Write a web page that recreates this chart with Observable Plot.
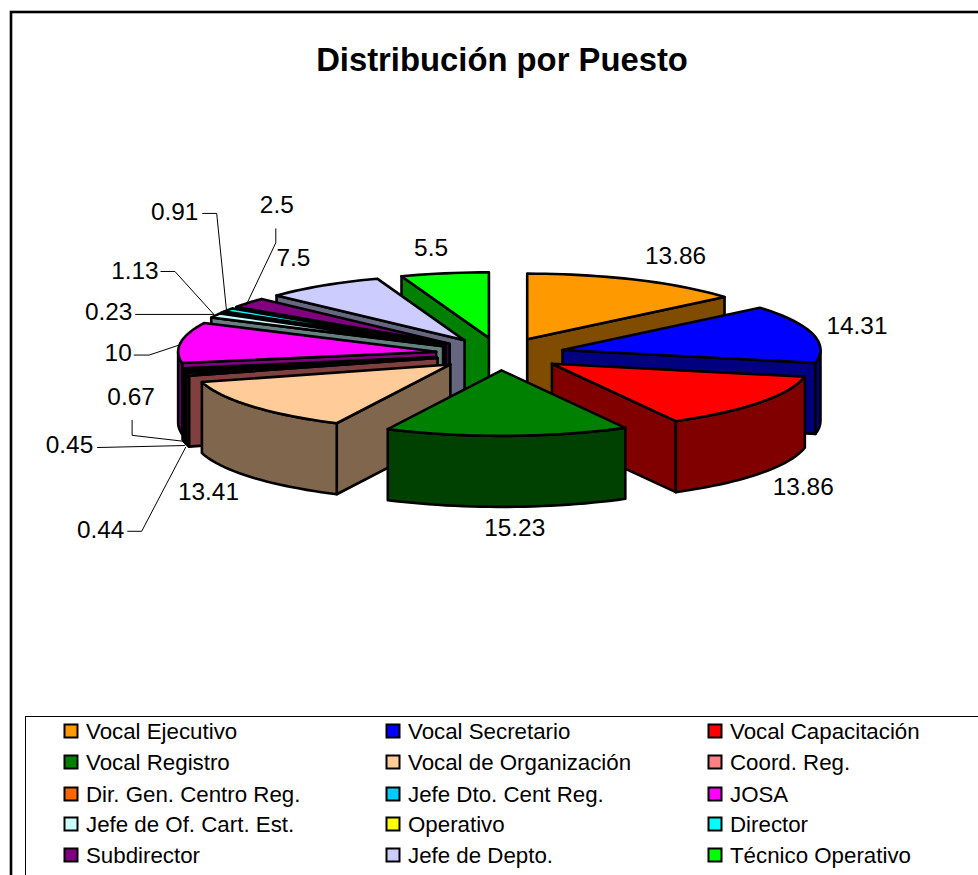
<!DOCTYPE html>
<html>
<head>
<meta charset="utf-8">
<script src="https://cdn.jsdelivr.net/npm/d3@7"></script>
<script src="https://cdn.jsdelivr.net/npm/@observablehq/plot@0.6"></script>
<style>html,body{margin:0;padding:0;background:#fff}svg{display:block}</style>
</head>
<body>
<div id="chart"></div>
<script>
const title = "Distribución por Puesto";
const categories = ["Vocal Ejecutivo","Vocal Secretario","Vocal Capacitación","Vocal Registro","Vocal de Organización","Coord. Reg.","Dir. Gen. Centro Reg.","Jefe Dto. Cent Reg.","JOSA","Jefe de Of. Cart. Est.","Operativo","Director","Subdirector","Jefe de Depto.","Técnico Operativo"];
const values = [13.86,14.31,13.86,15.23,13.41,0.67,0.45,0.44,10,1.13,0.23,0.91,2.5,7.5,5.5];
const topColors = ["#FF9900","#0000FF","#FF0000","#008000","#FFCC99","#FF8080","#FF6600","#00CCFF","#FF00FF","#CCFFFF","#FFFF00","#00FFFF","#800080","#CCCCFF","#00FF00"];
const wallColors = ["#804C00","#000080","#800000","#004000","#80664C","#804040","#803300","#006680","#800080","#668080","#808000","#008080","#400040","#666680","#008000"];

// Layout of the projected pie
const W = 978, H = 875;
const cx = 499.5, cy = 353.5, rx = 258, ry = 65.5, depth = 71, explode = 0.25;
// label offset from each slice's outer rim midpoint
const labelOffsets = [[39.5,-24],[44.5,-8],[43.5,85],[7.5,92],[-43.5,86],[-56.5,23],[-115.5,74],[-82.5,161],[-62.5,10.5],[-80.5,-44],[-113.5,0],[-53.5,-97.5],[28.5,-98],[-29.5,-27],[-13.5,-25]];
// leader routes, offset from the rim midpoint
const leaderRoutes = {5:[[-3.5,67],[-55.5,61],[-55.5,46]],6:[[-0.5,74],[-87.5,76]],7:[[2.5,78],[-41.5,162],[-55.5,162]],8:[[-1.5,2.5],[-31.5,12.5],[-46.5,12.5]],9:[[-1.5,-1],[-40.5,-44],[-54.5,-44]],10:[[-8.5,2],[-86.5,2]],11:[[-1.5,2.5],[-11.5,-96.5],[-25.5,-96.5]],12:[[-2.5,3],[27.5,-60],[27.5,-74]]};

const total = d3.sum(values);
const cum = d3.cumsum(values);
const rad = d => d * Math.PI / 180;
const slices = values.map((v,i) => {
  const a0 = (cum[i]-v)/total*360, a1 = cum[i]/total*360, mid = (a0+a1)/2;
  const s = Math.sin(rad(mid)), c = Math.cos(rad(mid));
  return {i,a0,a1,mid,c,
    ax: cx + explode*rx*s, ay: cy - explode*ry*c,
    rimx: cx + (1+explode)*rx*s, rimy: cy - (1+explode)*ry*c};
});
const onRim = (sl,a) => [sl.ax + rx*Math.sin(rad(a)), sl.ay - ry*Math.cos(rad(a))];
const arc = (sl,a,b) => { const n = Math.max(2,Math.ceil((b-a)/2)); return d3.range(n+1).map(k => onRim(sl,a+(b-a)*k/n)); };

const polys = [];
let pid = 0;
const add = (pts,fill) => { const id = pid++; [...pts,pts[0]].forEach(p => polys.push({x:p[0],y:p[1],id,fill})); };
const down = pts => pts.map(p => [p[0],p[1]+depth]);
[...slices].sort((a,b)=>b.c-a.c).forEach(sl => {
  const apex = [sl.ax,sl.ay], wall = wallColors[sl.i];
  if (Math.sin(rad(sl.a0)) < 0) { const e = onRim(sl,sl.a0); add([apex,e,[e[0],e[1]+depth],[apex[0],apex[1]+depth]],wall); }
  if (Math.sin(rad(sl.a1)) > 0) { const e = onRim(sl,sl.a1); add([apex,e,[e[0],e[1]+depth],[apex[0],apex[1]+depth]],wall); }
  const ra = Math.max(sl.a0,90), rb = Math.min(sl.a1,270);
  if (rb > ra) { const t = arc(sl,ra,rb); add([...t,...down(t).reverse()],wall); }
  add([apex,...arc(sl,sl.a0,sl.a1)],topColors[sl.i]);
});

const leaders = [];
Object.entries(leaderRoutes).forEach(([k,route]) => {
  const sl = slices[+k];
  route.forEach(o => leaders.push({x:sl.rimx+o[0],y:sl.rimy+o[1],k}));
});
const labels = slices.map(sl => ({x:sl.rimx+labelOffsets[sl.i][0],y:sl.rimy+labelOffsets[sl.i][1],t:String(values[sl.i])}));

// legend grid
const legendCols = [64,386,708], legendRows = [731,762,794,824,855], swatch = 13;
const legend = categories.map((name,i) => ({name,fill:topColors[i],x:legendCols[i%3],y:legendRows[Math.floor(i/3)]}));

const font = "'Liberation Sans',Arial,sans-serif";
const frame = [{x1:11,y1:12,x2:W+10,y2:H+10}];
const legendBox = [{x1:25.5,y1:716.5,x2:W+10,y2:H+10}];
const plot = Plot.plot({
  width:W,height:H,margin:0,
  x:{domain:[0,W],range:[0,W],axis:null},
  y:{domain:[0,H],range:[0,H],axis:null},
  color:{type:"identity"},
  style:{background:"#fff",fontFamily:font},
  marks:[
    Plot.rect(frame,{x1:"x1",y1:"y1",x2:"x2",y2:"y2",fill:"#fff",stroke:"#000",strokeWidth:2.6}),
    Plot.text([title],{x:()=>501.5,y:()=>60,text:d=>d,fontSize:32.8,fontWeight:"bold",fill:"#000",fontFamily:font}),
    Plot.line(polys,{x:"x",y:"y",z:"id",fill:"fill",stroke:"#000",strokeWidth:2.6,strokeLinejoin:"round",curve:"linear"}),
    Plot.line(leaders,{x:"x",y:"y",z:"k",stroke:"#000",strokeWidth:1,curve:"linear"}),
    Plot.text(labels,{x:"x",y:"y",text:"t",fontSize:24.4,fill:"#000",fontFamily:font}),
    Plot.rect(legendBox,{x1:"x1",y1:"y1",x2:"x2",y2:"y2",fill:"none",stroke:"#000",strokeWidth:1}),
    Plot.rect(legend,{x1:d=>d.x+0.5,x2:d=>d.x+0.5+swatch,y1:d=>d.y-swatch/2,y2:d=>d.y+swatch/2,fill:"fill",stroke:"#000",strokeWidth:2}),
    Plot.text(legend,{x:d=>d.x+21.5,y:"y",text:"name",textAnchor:"start",fontSize:22.3,fill:"#000",fontFamily:font})
  ]
});
document.getElementById("chart").append(plot);
</script>
</body>
</html>
